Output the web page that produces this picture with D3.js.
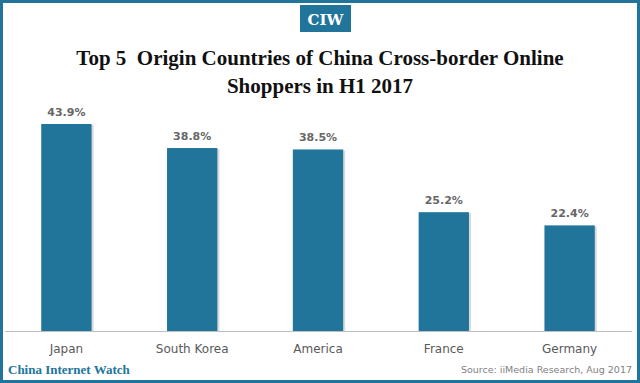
<!DOCTYPE html>
<html><head><meta charset="utf-8">
<script src="https://cdn.jsdelivr.net/npm/d3@7"></script>
<style>html,body{margin:0;padding:0;background:#fff;}svg{display:block;}</style>
</head><body>
<script>
const categories = ["Japan", "South Korea", "America", "France", "Germany"];
const values = [43.9, 38.8, 38.5, 25.2, 22.4];
const valueLabels = ["43.9%", "38.8%", "38.5%", "25.2%", "22.4%"];
const titleLines = ["Top 5  Origin Countries of China Cross-border Online", "Shoppers in H1 2017"];

const W = 640, H = 383;
const blue = "#21759b";
const svg = d3.select("body").append("svg").attr("width", W).attr("height", H);

svg.append("rect").attr("x", 1.5).attr("y", 1.5).attr("width", W - 3).attr("height", H - 3)
  .attr("fill", "#fff").attr("stroke", blue).attr("stroke-width", 3);

// CIW badge
svg.append("rect").attr("x", 300).attr("y", 5).attr("width", 51).attr("height", 27).attr("fill", blue);
svg.append("text").attr("x", 325.5).attr("y", 25).attr("text-anchor", "middle")
  .attr("font-family", "DejaVu Serif, serif").attr("font-weight", "bold").attr("font-size", 15)
  .attr("fill", "#fff").text("CIW");

// title
svg.selectAll("text.title").data(titleLines).enter().append("text").attr("class", "title")
  .attr("x", 320).attr("y", (d, i) => 65 + i * 28).attr("text-anchor", "middle")
  .style("white-space", "pre")
  .attr("font-family", "Liberation Serif, serif").attr("font-weight", "bold").attr("font-size", 21)
  .attr("fill", "#111").text(d => d);

const x = d3.scaleBand().domain(categories).range([3.5, 632.5]).paddingInner(0.6).paddingOuter(0.3);
const y = d3.scaleLinear().domain([0, 43.9]).range([331, 124]);

// shadow
svg.selectAll("rect.shadow").data(values).enter().append("rect").attr("class", "shadow")
  .attr("x", (d, i) => x(categories[i]) + 2).attr("y", d => y(d) + 1)
  .attr("width", x.bandwidth()).attr("height", d => y(0) - y(d) - 1)
  .attr("fill", "#d9d9d9");
svg.selectAll("rect.bar").data(values).enter().append("rect").attr("class", "bar")
  .attr("x", (d, i) => x(categories[i])).attr("y", d => y(d))
  .attr("width", x.bandwidth()).attr("height", d => y(0) - y(d))
  .attr("fill", blue);

svg.selectAll("text.val").data(values).enter().append("text").attr("class", "val")
  .attr("x", (d, i) => x(categories[i]) + x.bandwidth() / 2).attr("y", d => y(d) - 8)
  .attr("text-anchor", "middle").attr("font-family", "DejaVu Sans, sans-serif").attr("font-weight", "bold")
  .attr("font-size", 11).attr("fill", "#666").text((d, i) => valueLabels[i]);

// axis
const axis = svg.append("g").attr("transform", `translate(0,${y(0)})`)
  .call(d3.axisBottom(x).tickSize(0).tickPadding(13));
axis.select(".domain").remove();
svg.append("line").attr("x1", 5).attr("x2", 632).attr("y1", y(0) + 0.5).attr("y2", y(0) + 0.5)
  .attr("stroke", "#bfbfbf").attr("stroke-width", 1);
axis.selectAll("text").attr("font-family", "DejaVu Sans, sans-serif").attr("font-size", 12)
  .attr("fill", "#595959");

// footer
svg.append("text").attr("x", 8).attr("y", 374).attr("font-family", "Liberation Serif, serif")
  .attr("font-weight", "bold").attr("font-size", 13).attr("fill", blue).text("China Internet Watch");
svg.append("text").attr("x", 632).attr("y", 373).attr("text-anchor", "end")
  .attr("font-family", "DejaVu Sans, sans-serif").attr("font-size", 9.5).attr("fill", "#7f7f7f")
  .text("Source: iiMedia Research, Aug 2017");
</script>
</body></html>
